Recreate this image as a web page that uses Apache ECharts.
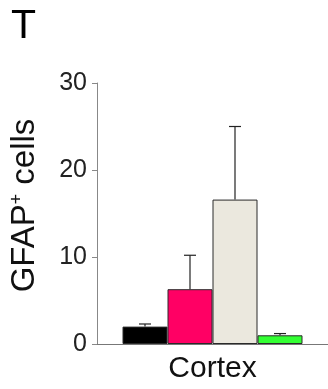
<!DOCTYPE html>
<html>
<head>
<meta charset="utf-8">
<script src="https://cdn.jsdelivr.net/npm/echarts@6/dist/echarts.min.js"></script>
<style>
html,body{margin:0;padding:0;background:#fff;}
#chart{width:328px;height:389px;}
</style>
</head>
<body>
<div id="chart"></div>
<script>
// ---- data ----
const categories = ['Cortex'];
const groupNames = ['Group 1', 'Group 2', 'Group 3', 'Group 4'];
const means = [2.0, 6.3, 16.6, 1.0];
const errors = [0.3, 3.9, 8.4, 0.2];
const yTicks = [0, 10, 20, 30];

// ---- style ----
const colors = ['#000000', '#ff0064', '#ebe8de', '#33ff33'];
const BAR_W = 45;
const FONT = '"Liberation Sans", Arial, Helvetica, sans-serif';

const chart = echarts.init(document.getElementById('chart'), null, {renderer: 'canvas'});

const barSeries = groupNames.map((name, i) => ({
  name: name,
  type: 'bar',
  barWidth: BAR_W,
  barGap: '0%',
  data: [means[i]],
  itemStyle: {color: colors[i], borderColor: '#2a2a2a', borderWidth: 1},
  z: 2
}));

const errData = means.map((m, i) => [0, m, m + errors[i], i]);

const errSeries = {
  type: 'custom',
  z: 3,
  data: errData,
  renderItem: function (params, api) {
    const base = api.coord([api.value(0), api.value(1)]);
    const top = api.coord([api.value(0), api.value(2)]);
    const idx = api.value(3);
    const x = base[0] + (idx - (means.length - 1) / 2) * BAR_W;
    const cap = 6;
    const style = {stroke: '#222', lineWidth: 1.2, fill: null};
    return {
      type: 'group',
      children: [
        {type: 'line', shape: {x1: x, y1: base[1], x2: x, y2: top[1]}, style: style},
        {type: 'line', shape: {x1: x - cap, y1: top[1], x2: x + cap, y2: top[1]}, style: style}
      ]
    };
  }
};

chart.setOption({
  animation: false,
  backgroundColor: '#fff',
  title: {
    text: 'T',
    left: 6,
    top: 1,
    textStyle: {fontFamily: FONT, fontSize: 41, fontWeight: 'normal', color: '#000'}
  },
  grid: {left: 97, right: 0, top: 83, bottom: 45, containLabel: false},
  xAxis: {
    type: 'category',
    data: categories,
    axisLine: {lineStyle: {color: '#777', width: 1}},
    axisTick: {show: false},
    axisLabel: {fontFamily: FONT, fontSize: 30, color: '#111', margin: 10}
  },
  yAxis: {
    type: 'value',
    min: yTicks[0],
    max: yTicks[yTicks.length - 1],
    interval: 10,
    splitLine: {show: false},
    axisLine: {show: true, lineStyle: {color: '#888', width: 1}},
    axisTick: {show: true, length: 5, lineStyle: {color: '#888'}},
    axisLabel: {fontFamily: FONT, fontSize: 25, color: '#222', margin: 10},
    name: '{a|GFAP}{s|+}{a| cells}',
    nameLocation: 'middle',
    nameRotate: 90,
    nameGap: 56,
    nameTextStyle: {
      fontFamily: FONT,
      color: '#111',
      padding: [0, 0, 0, 16],
      rich: {
        a: {fontFamily: FONT, fontSize: 33, color: '#111'},
        s: {fontFamily: FONT, fontSize: 18, color: '#111', verticalAlign: 'top', padding: [0, 0, 14, 0]}
      }
    }
  },
  series: barSeries.concat([errSeries])
});
</script>
</body>
</html>
